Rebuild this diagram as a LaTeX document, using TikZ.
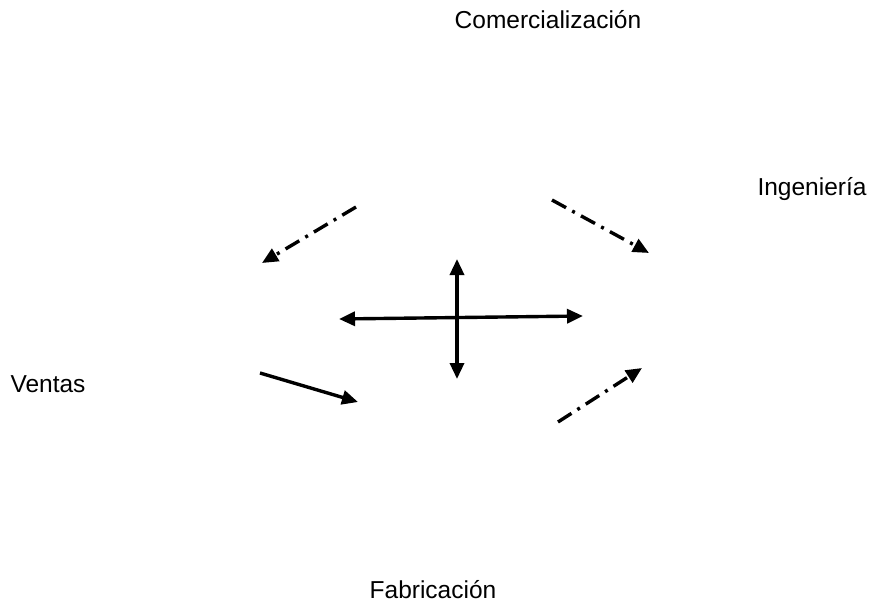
\documentclass[tikz,border=0pt]{standalone}
\usepackage{fontspec}
\setmainfont{Liberation Sans}
\usetikzlibrary{arrows.meta}
\begin{document}
\begin{tikzpicture}[x=1pt,y=-1pt,
  lbl/.style={font=\fontsize{24.5}{28}\selectfont, inner sep=0pt, anchor=base},
  arr/.style={line width=3.4pt, -{Triangle[length=16pt,width=14pt]}},
  darr/.style={line width=3.4pt, {Triangle[length=16pt,width=14pt]}-{Triangle[length=16pt,width=14pt]}},
  faded/.style={arr, dash pattern=on 16pt off 7pt on 3pt off 7pt}]
\useasboundingbox (0,0) rectangle (876,615);
% labels
\node[lbl] (com) at (548,29) {Comercialización};
\node[lbl] (ing) at (812,196) {Ingeniería};
\node[lbl] (ven) at (48,392) {Ventas};
\node[lbl] (fab) at (433,598) {Fabricación};
% central cross
\coordinate (hl) at (339,319);
\coordinate (hr) at (583,316);
\coordinate (vt) at (457,259);
\coordinate (vb) at (457,379);
\draw[darr] (hl) -- (hr);
\draw[darr] (vt) -- (vb);
% diagonal arrows
\coordinate (ula) at (356,207);
\coordinate (ulb) at (262,263);
\coordinate (ura) at (552,200);
\coordinate (urb) at (649,253);
\coordinate (lla) at (260,373);
\coordinate (llb) at (358,402);
\coordinate (lra) at (558,422);
\coordinate (lrb) at (642,368);
\draw[faded] (ula) -- (ulb);
\draw[faded] (ura) -- (urb);
\draw[arr] (lla) -- (llb);
\draw[faded] (lra) -- (lrb);
\end{tikzpicture}
\end{document}
